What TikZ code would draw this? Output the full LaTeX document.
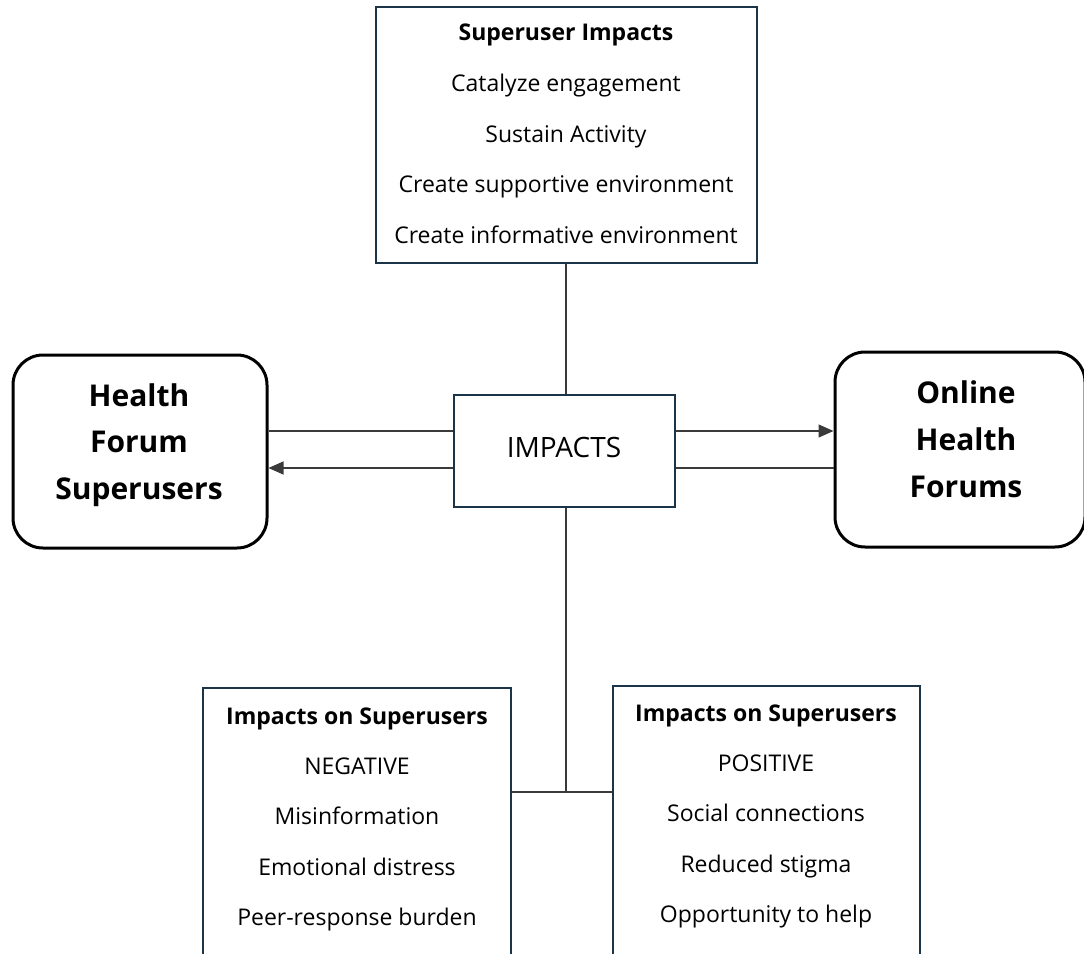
\documentclass[tikz,border=0pt]{standalone}
\usepackage{fontspec}
\setmainfont{Open Sans}
\usetikzlibrary{arrows.meta}
\definecolor{boxline}{HTML}{1B3447}
\definecolor{wire}{HTML}{3A3A3A}
\tikzset{
  plainbox/.style={draw=boxline, line width=2pt, fill=white, inner sep=0pt},
  roundbox/.style={draw=black, line width=3pt, rounded corners=30pt, fill=white, inner sep=0pt},
  line/.style={draw=wire, line width=1.2pt},
  arrowline/.style={line, -{Triangle[length=15pt,width=13pt]}},
  txt/.style={font=\fontsize{23}{27}\selectfont, text=black, anchor=base},
  head/.style={font=\fontsize{23}{27}\selectfont\bfseries, text=black, anchor=base},
  big/.style={font=\fontsize{30}{34}\selectfont\bfseries, text=black, anchor=base},
  midtxt/.style={font=\fontsize{28}{32}\selectfont, text=black, anchor=base},
}
\begin{document}
\begin{tikzpicture}[x=1pt,y=-1pt]
\useasboundingbox (0,0) rectangle (1084,953);
\clip (0,0) rectangle (1084,953);
\fill[white] (0,0) rectangle (1084,953);

% boxes
\node[plainbox, minimum width=381pt, minimum height=256pt] (top) at (566.5,135) {};
\node[roundbox, minimum width=254pt, minimum height=193pt] (left) at (140,451.5) {};
\node[roundbox, minimum width=250pt, minimum height=195pt] (right) at (960,449.5) {};
\node[plainbox, minimum width=221pt, minimum height=112pt] (mid) at (564.5,451) {};
\node[plainbox, minimum width=308pt, minimum height=300pt] (neg) at (357,838) {};
\node[plainbox, minimum width=307pt, minimum height=300pt] (pos) at (766.5,836) {};

% connectors
\coordinate (j) at (566,792);
\draw[line] (top.south -| 566,0) -- (mid.north -| 566,0);
\draw[line] (mid.south -| 566,0) -- (j);
\draw[line] (neg.east |- j) -- (pos.west |- j);
\draw[line] (mid.west |- 0,431) -- (left.east |- 0,431);
\draw[arrowline] (mid.west |- 0,468) -- (left.east |- 0,468);
\draw[arrowline] (mid.east |- 0,431) -- (right.west |- 0,431);
\draw[line] (mid.east |- 0,468) -- (right.west |- 0,468);

% top box text
\node[head] (t0) at (566,40) {Superuser Impacts};
\node[txt] (t1) at (566,91) {Catalyze engagement};
\node[txt] (t2) at (566,142) {Sustain Activity};
\node[txt] (t3) at (566,192) {Create supportive environment};
\node[txt] (t4) at (566,243) {Create informative environment};

% side boxes
\node[big] (l1) at (139,406) {Health};
\node[big] (l2) at (139,452) {Forum};
\node[big] (l3) at (139,499) {Superusers};
\node[big] (r1) at (966,403) {Online};
\node[big] (r2) at (966,450) {Health};
\node[big] (r3) at (966,497) {Forums};

\node[midtxt] (m) at (564,457) {IMPACTS};

% bottom left
\node[head] (n0) at (357,724) {Impacts on Superusers};
\node[txt] (n1) at (357,774) {NEGATIVE};
\node[txt] (n2) at (357,824) {Misinformation};
\node[txt] (n3) at (357,875) {Emotional distress};
\node[txt] (n4) at (357,925) {Peer-response burden};

% bottom right
\node[head] (p0) at (766,721) {Impacts on Superusers};
\node[txt] (p1) at (766,771) {POSITIVE};
\node[txt] (p2) at (766,821) {Social connections};
\node[txt] (p3) at (766,872) {Reduced stigma};
\node[txt] (p4) at (766,922) {Opportunity to help};
\end{tikzpicture}
\end{document}
